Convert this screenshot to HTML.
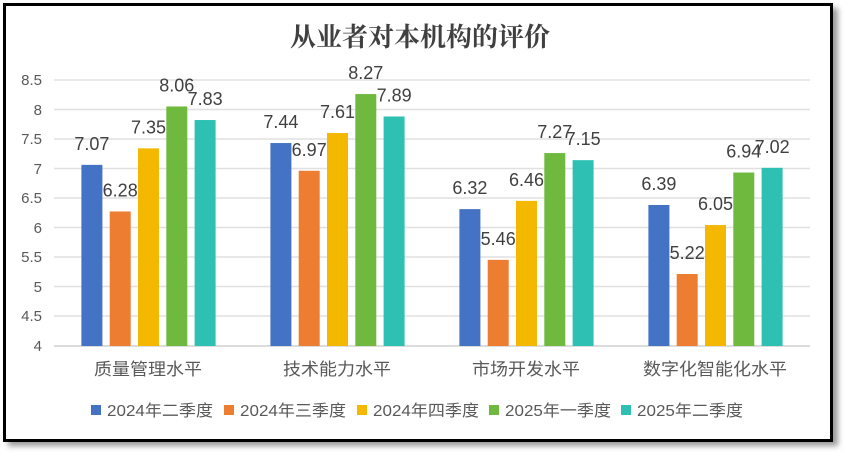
<!DOCTYPE html>
<html><head><meta charset="utf-8"><style>
html,body{margin:0;padding:0;background:#fff;}
svg{display:block;font-family:"Liberation Sans","Noto Sans CJK SC",sans-serif;}
</style></head><body>
<svg width="844" height="452" viewBox="0 0 844 452" xmlns="http://www.w3.org/2000/svg">
<defs><filter id="sh" x="-5%" y="-5%" width="110%" height="115%"><feGaussianBlur stdDeviation="3"/></filter></defs>
<rect x="8" y="8" width="830" height="438" fill="#999" filter="url(#sh)"/>
<rect x="4.5" y="4.5" width="827" height="436" fill="#fff" stroke="#000" stroke-width="3"/>
<text x="420" y="46" text-anchor="middle" font-size="26" font-weight="bold" fill="#404040" font-family="'Noto Serif CJK SC','Noto Sans CJK SC',serif">从业者对本机构的评价</text>
<g stroke="#e0e0e0" stroke-width="1.5">
<line x1="54" x2="810" y1="80" y2="80"/><line x1="54" x2="810" y1="109.5" y2="109.5"/><line x1="54" x2="810" y1="139" y2="139"/><line x1="54" x2="810" y1="168.5" y2="168.5"/><line x1="54" x2="810" y1="198" y2="198"/><line x1="54" x2="810" y1="227.5" y2="227.5"/><line x1="54" x2="810" y1="257" y2="257"/><line x1="54" x2="810" y1="286.5" y2="286.5"/><line x1="54" x2="810" y1="316" y2="316"/>
</g>
<line x1="54" x2="810" y1="346" y2="346" stroke="#d0d0d0" stroke-width="1.5"/>
<g font-size="15" fill="#595959" text-anchor="end">
<text x="42" y="85">8.5</text><text x="42" y="115">8</text><text x="42" y="144">7.5</text><text x="42" y="174">7</text><text x="42" y="203">6.5</text><text x="42" y="233">6</text><text x="42" y="262">5.5</text><text x="42" y="292">5</text><text x="42" y="321">4.5</text><text x="42" y="351">4</text>
</g>
<g>
<rect x="81.4" y="164.87" width="21" height="181.13" fill="#4472C4"/>
<rect x="109.7" y="211.48" width="21" height="134.52" fill="#ED7D31"/>
<rect x="138" y="148.35" width="21" height="197.65" fill="#F4B800"/>
<rect x="166.3" y="106.46" width="21" height="239.54" fill="#70B93F"/>
<rect x="194.6" y="120.03" width="21" height="225.97" fill="#2EC1B3"/>
<rect x="270.4" y="143.04" width="21" height="202.96" fill="#4472C4"/>
<rect x="298.7" y="170.77" width="21" height="175.23" fill="#ED7D31"/>
<rect x="327" y="133.01" width="21" height="212.99" fill="#F4B800"/>
<rect x="355.3" y="94.07" width="21" height="251.93" fill="#70B93F"/>
<rect x="383.6" y="116.49" width="21" height="229.51" fill="#2EC1B3"/>
<rect x="459.4" y="209.12" width="21" height="136.88" fill="#4472C4"/>
<rect x="487.7" y="259.86" width="21" height="86.14" fill="#ED7D31"/>
<rect x="516" y="200.86" width="21" height="145.14" fill="#F4B800"/>
<rect x="544.3" y="153.07" width="21" height="192.93" fill="#70B93F"/>
<rect x="572.6" y="160.15" width="21" height="185.85" fill="#2EC1B3"/>
<rect x="648.4" y="204.99" width="21" height="141.01" fill="#4472C4"/>
<rect x="676.7" y="274.02" width="21" height="71.98" fill="#ED7D31"/>
<rect x="705" y="225.05" width="21" height="120.95" fill="#F4B800"/>
<rect x="733.3" y="172.54" width="21" height="173.46" fill="#70B93F"/>
<rect x="761.6" y="167.82" width="21" height="178.18" fill="#2EC1B3"/>
</g>
<g font-size="18" fill="#404040" text-anchor="middle">
<text x="91.9" y="149.9">7.07</text>
<text x="120.2" y="196.5">6.28</text>
<text x="148.5" y="133.4">7.35</text>
<text x="176.8" y="91.5">8.06</text>
<text x="205.1" y="105">7.83</text>
<text x="280.9" y="128">7.44</text>
<text x="309.2" y="155.8">6.97</text>
<text x="337.5" y="118">7.61</text>
<text x="365.8" y="79.1">8.27</text>
<text x="394.1" y="101.5">7.89</text>
<text x="469.9" y="194.1">6.32</text>
<text x="498.2" y="244.9">5.46</text>
<text x="526.5" y="185.9">6.46</text>
<text x="554.8" y="138.1">7.27</text>
<text x="583.1" y="145.2">7.15</text>
<text x="658.9" y="190">6.39</text>
<text x="687.2" y="259">5.22</text>
<text x="715.5" y="210.1">6.05</text>
<text x="743.8" y="157.5">6.94</text>
<text x="772.1" y="152.8">7.02</text>
</g>
<g font-size="17" fill="#595959" text-anchor="middle">
<text x="148" y="375" textLength="108" lengthAdjust="spacingAndGlyphs">质量管理水平</text>
<text x="337" y="375" textLength="108" lengthAdjust="spacingAndGlyphs">技术能力水平</text>
<text x="526" y="375" textLength="108" lengthAdjust="spacingAndGlyphs">市场开发水平</text>
<text x="715" y="375" textLength="144" lengthAdjust="spacingAndGlyphs">数字化智能化水平</text>
</g>
<g font-size="16" fill="#595959">
<rect x="91" y="405" width="10" height="10" fill="#4472C4"/><text x="107" y="416" textLength="106" lengthAdjust="spacingAndGlyphs">2024年二季度</text>
<rect x="224" y="405" width="10" height="10" fill="#ED7D31"/><text x="240" y="416" textLength="106" lengthAdjust="spacingAndGlyphs">2024年三季度</text>
<rect x="357" y="405" width="10" height="10" fill="#F4B800"/><text x="373" y="416" textLength="106" lengthAdjust="spacingAndGlyphs">2024年四季度</text>
<rect x="489" y="405" width="10" height="10" fill="#70B93F"/><text x="505" y="416" textLength="106" lengthAdjust="spacingAndGlyphs">2025年一季度</text>
<rect x="621" y="405" width="10" height="10" fill="#2EC1B3"/><text x="637" y="416" textLength="106" lengthAdjust="spacingAndGlyphs">2025年二季度</text>
</g>
</svg>
</body></html>
